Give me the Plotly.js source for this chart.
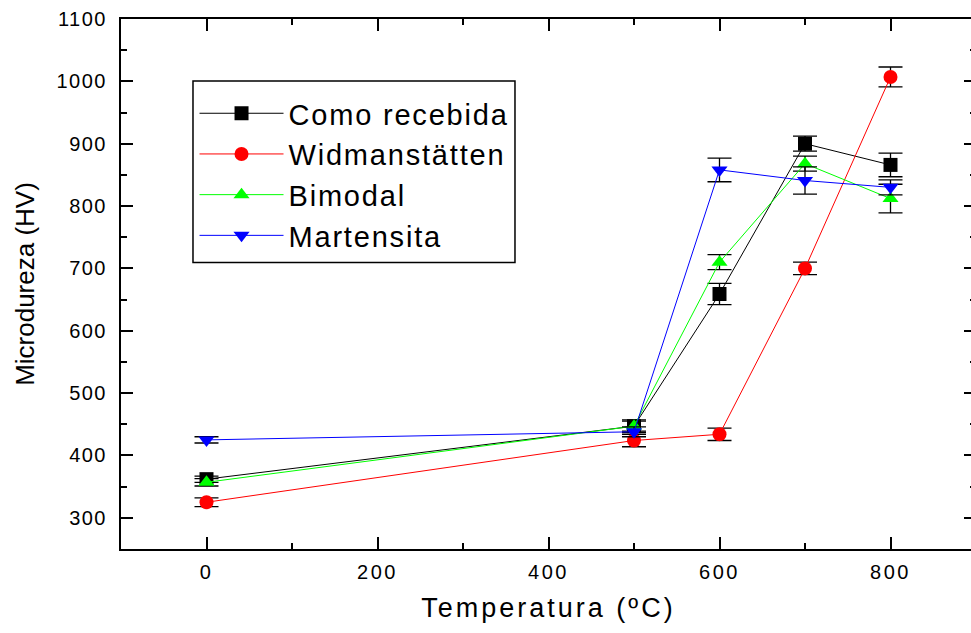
<!DOCTYPE html>
<html>
<head>
<meta charset="utf-8">
<script src="https://cdn.plot.ly/plotly-3.0.1.min.js"></script>
<style>
  html, body { margin: 0; padding: 0; overflow: hidden; background: #fff; }
  #chart { width: 985px; height: 633px; }
  .xtick text { letter-spacing: 2.5px; }
  .ytick text { letter-spacing: 1.5px; }
  .legendtext { letter-spacing: 1.8px; }
  .g-xtitle text { letter-spacing: 3px; }
</style>
</head>
<body>
<div id="chart"></div>
<script>
// Data
const temperatura = [0, 500, 600, 700, 800];

const comoRecebida      = [362, 447, 659, 900, 866];
const comoRecebidaErr   = [5, 10, 17, 12, 19];

const widmanstatten     = [325, 424, 434, 700, 1007];
const widmanstattenErr  = [7, 10, 10, 10, 16];

const bimodal           = [357, 447, 710, 868, 812];
const bimodalErr        = [6, 8, 12, 12, 23];

const martensita        = [425, 438, 858, 841, 830];
const martensitaErr     = [5, 8, 19, 22, 12];

const seriesNames   = ['Como recebida', 'Widmanstätten', 'Bimodal', 'Martensita'];
const seriesValues  = [comoRecebida, widmanstatten, bimodal, martensita];
const seriesErrors  = [comoRecebidaErr, widmanstattenErr, bimodalErr, martensitaErr];
const seriesColors  = ['#000000', '#ff0000', '#00ff00', '#0000ff'];
const seriesSymbols = ['square', 'circle', 'triangle-up', 'triangle-down'];

const traces = seriesNames.map((name, i) => ({
  type: 'scatter',
  mode: 'lines+markers',
  name: name,
  x: temperatura,
  y: seriesValues[i],
  line: { color: seriesColors[i], width: 1 },
  marker: { color: seriesColors[i], symbol: seriesSymbols[i], size: 14 },
  error_y: { type: 'data', array: seriesErrors[i], visible: true, color: '#000000', thickness: 1.3, width: 12 }
}));

const font = 'Liberation Sans, Arial, sans-serif';

const axisCommon = {
  showgrid: false,
  zeroline: false,
  showline: true,
  linecolor: '#000',
  linewidth: 2,
  mirror: 'allticks',
  ticks: 'inside',
  ticklen: 12,
  tickwidth: 2,
  tickcolor: '#000',
  tickfont: { family: font, size: 20, color: '#000' }
};

const layout = {
  width: 985,
  height: 633,
  margin: { l: 121, r: 9, t: 19, b: 84 },
  paper_bgcolor: '#fff',
  plot_bgcolor: '#fff',
  showlegend: true,
  xaxis: Object.assign({}, axisCommon, {
    range: [-100, 900],
    tickmode: 'linear', tick0: 0, dtick: 200,
    minor: { dtick: 100, ticks: 'inside', ticklen: 6, tickwidth: 2, tickcolor: '#000' },
    ticklabelstandoff: 4,
    title: { text: 'Temperatura (ºC)', font: { family: font, size: 27, color: '#000' }, standoff: 16 }
  }),
  yaxis: Object.assign({}, axisCommon, {
    range: [250, 1100],
    tickmode: 'linear', tick0: 300, dtick: 100,
    minor: { dtick: 50, ticks: 'inside', ticklen: 6, tickwidth: 2, tickcolor: '#000' },
    ticklabelstandoff: 8,
    title: { text: 'Microdureza (HV)', font: { family: font, size: 26, color: '#000' }, standoff: 14 }
  }),
  shapes: [{
    type: 'rect', xref: 'paper', yref: 'paper', layer: 'above',
    x0: 0.0842, x1: 0.4608, y0: 0.5405, y1: 0.8832,
    line: { color: '#000', width: 1.5 }, fillcolor: 'rgba(255,255,255,0)'
  }],
  legend: {
    x: 0.086, y: 0.870, xanchor: 'left', yanchor: 'top',
    bgcolor: 'rgba(0,0,0,0)', borderwidth: 0,
    font: { family: font, size: 29, color: '#000' },
    itemwidth: 84,
    tracegroupgap: 0
  }
};

Plotly.newPlot('chart', traces, layout, { displayModeBar: false, staticPlot: true });
</script>
</body>
</html>
